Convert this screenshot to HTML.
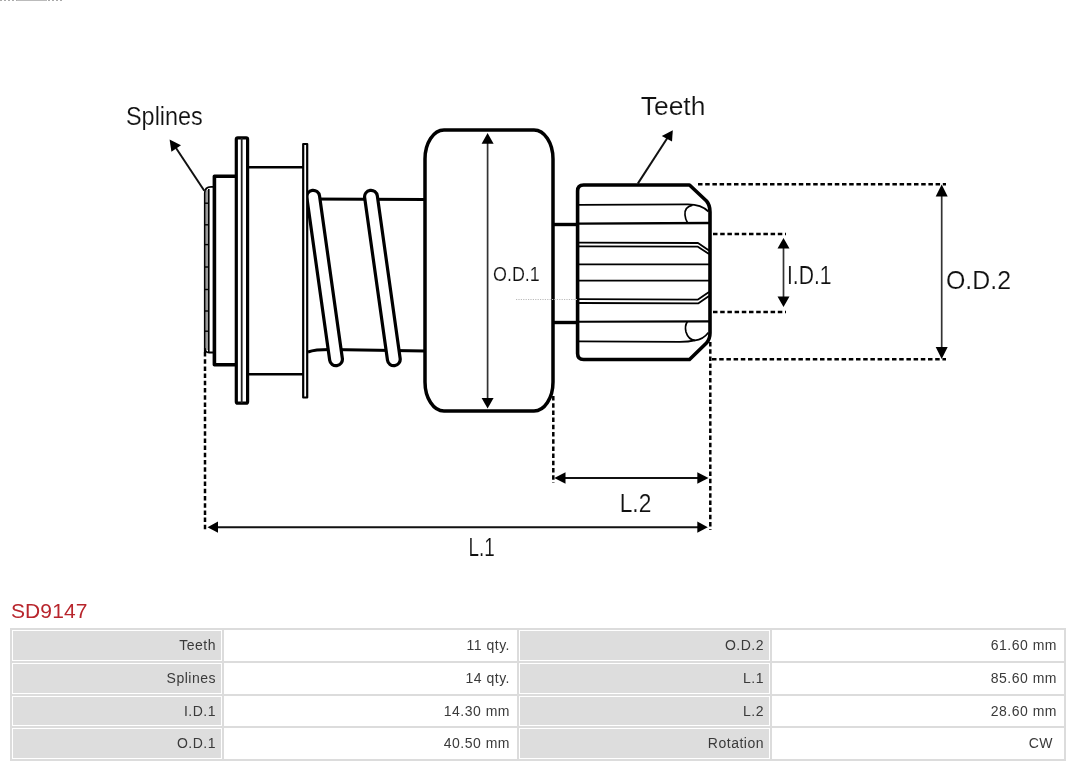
<!DOCTYPE html>
<html>
<head>
<meta charset="utf-8">
<style>
html,body{margin:0;padding:0;background:#fff;width:1080px;height:767px;overflow:hidden;position:relative;font-family:"Liberation Sans",sans-serif;}
#dia{position:absolute;left:0;top:0;will-change:transform;}
#title{will-change:transform;position:absolute;left:11px;top:599px;font-size:21px;letter-spacing:0.1px;line-height:24px;color:#b8252c;white-space:nowrap;}
#tbl{will-change:transform;position:absolute;left:10px;top:628px;width:1056px;height:133px;background:#dcdcdc;}
.c{position:absolute;box-sizing:border-box;border:1px solid #fff;font-size:14px;letter-spacing:0.5px;color:#3a3a3a;text-align:right;white-space:nowrap;line-height:29px;}
.h{background:#dddddd;padding-right:5px;}
.d{background:#fff;padding-right:6px;}
</style>
</head>
<body>
<svg id="dia" width="1080" height="590" viewBox="0 0 1080 590">
<g fill="none" stroke="#000" stroke-linejoin="round">
<line x1="0" y1="0.5" x2="64" y2="0.5" stroke="#aaa" stroke-width="1" stroke-dasharray="2 2"/>
<line x1="17" y1="0.5" x2="47" y2="0.5" stroke="#bbb" stroke-width="1"/>
<!-- dashed extension lines -->
<g stroke-width="2.5" stroke-dasharray="4.5 2.7">
<line x1="698" y1="184.3" x2="946" y2="184.3"/>
<line x1="712" y1="359.3" x2="946" y2="359.3"/>
<line x1="713" y1="234" x2="786" y2="234"/>
<line x1="713" y1="312" x2="786" y2="312"/>
<line x1="205" y1="352" x2="205" y2="531"/>
<line x1="553.3" y1="396" x2="553.3" y2="483"/>
<line x1="710.3" y1="342" x2="710.3" y2="530"/>
</g>
<!-- splines strip -->
<path d="M204.8,352 L204.8,193 Q204.8,186.8 211,186.8 L214,186.8" stroke-width="1.8"/>
<rect x="205.8" y="190" width="2.2" height="160" fill="#9a9a9a" stroke="none"/>
<line x1="208.8" y1="189" x2="208.8" y2="352" stroke-width="1.6"/>
<path d="M204.8,348 Q205,352.5 209,352.5 L214,352.5" stroke-width="1.8"/><line x1="204" y1="203.2" x2="209" y2="203.2" stroke-width="1.4"/><line x1="204" y1="224.8" x2="209" y2="224.8" stroke-width="1.4"/><line x1="204" y1="244.6" x2="209" y2="244.6" stroke-width="1.4"/><line x1="204" y1="267" x2="209" y2="267" stroke-width="1.4"/><line x1="204" y1="289.5" x2="209" y2="289.5" stroke-width="1.4"/><line x1="204" y1="311" x2="209" y2="311" stroke-width="1.4"/><line x1="204" y1="331.2" x2="209" y2="331.2" stroke-width="1.4"/>
<!-- hub -->
<path d="M237,176.3 L214.4,176.3 L214.4,364.7 L237,364.7" stroke-width="3.6"/>
<!-- flange 1 -->
<rect x="236.3" y="137.8" width="11.3" height="265.4" rx="1.5" stroke-width="3.2" fill="#fff"/>
<line x1="241.7" y1="138" x2="241.7" y2="403" stroke-width="1.8" stroke="#222"/>
<!-- body lines -->
<line x1="248" y1="167.2" x2="303.5" y2="167.2" stroke-width="2.6"/>
<line x1="248" y1="374.2" x2="303.5" y2="374.2" stroke-width="2.6"/>
<!-- shaft -->
<line x1="308" y1="199" x2="425" y2="199.6" stroke-width="3"/>
<path d="M308,352 Q315,349.6 330,349.6 L425,351" stroke-width="3"/>
<!-- coils -->
<rect x="-6.4" y="-88.5" width="12.8" height="177" rx="6.4" transform="translate(324.6,278) rotate(-8)" stroke-width="3.2" fill="#fff"/>
<rect x="-6.4" y="-88.5" width="12.8" height="177" rx="6.4" transform="translate(382.4,278) rotate(-8)" stroke-width="3.2" fill="#fff"/>
<!-- flange 2 -->
<rect x="303.2" y="144" width="4" height="253.5" stroke-width="2.2" fill="#fff"/>
<!-- disc -->
<rect x="425" y="130" width="128" height="281" rx="19" ry="29" stroke-width="3.5" fill="#fff"/>
<!-- connectors -->
<line x1="553" y1="224.5" x2="578" y2="224.5" stroke-width="3.4"/>
<line x1="553" y1="322.5" x2="578" y2="322.5" stroke-width="3.4"/>
<!-- pinion -->
<path d="M577.6,191 Q577.6,185 583.6,185 L689.5,185 L706.5,201 Q710,205 710,212 L710,333 Q710,339 706.5,343 L689.5,359.5 L583.6,359.5 Q577.6,359.5 577.6,353.5 Z" stroke-width="3.6" fill="#fff"/>
<g stroke-width="1.8">
<path d="M579,204.8 L688,204.3 C697,204.3 704,207 708.5,211.5"/>
<path d="M692.5,205.2 C687,206.5 684.5,210.5 685,215 C685.3,218.5 686.3,221 687.5,222.8" stroke-width="1.7"/>
<line x1="579" y1="223.6" x2="709" y2="223" stroke-width="2.4"/>
<path d="M579,242.6 L698,243 L709,250.5"/>
<path d="M579,246.3 L697.5,246.6 L709,254"/>
<line x1="579" y1="264.3" x2="709" y2="264.3"/>
<line x1="579" y1="280.6" x2="709" y2="280.6"/>
<path d="M579,299.2 L698,299.6 L709,292"/>
<path d="M579,303 L698.5,303.3 L709,296"/>
<line x1="579" y1="321.8" x2="709" y2="321.4" stroke-width="2.1"/>
<path d="M687.3,321.8 C685.5,324.5 685,328 686,332 C687.5,337 691,340 695,340.3 C700,340 705,337 708.5,332.5" stroke-width="1.7"/>
<path d="M579,341.4 L680,341.8 C688,341.8 692,341 695,340.3"/>
</g>
<line x1="516" y1="299.5" x2="577" y2="299.5" stroke="#bbb" stroke-width="1" stroke-dasharray="1.2 1.2"/>
<!-- arrows (lines) -->
<g stroke="#333" stroke-width="1.7">
<line x1="487.6" y1="140" x2="487.6" y2="401"/>
<line x1="941.7" y1="192" x2="941.7" y2="351"/>
<line x1="783.5" y1="245" x2="783.5" y2="300"/>
</g>
<g stroke="#111" stroke-width="2">
<line x1="214" y1="527.2" x2="700" y2="527.2"/>
<line x1="563" y1="478" x2="700" y2="478"/>
<line x1="204.3" y1="190.7" x2="176" y2="148"/>
<line x1="637.8" y1="183.6" x2="668" y2="137"/>
</g>
</g>
<g fill="#000" stroke="none">
<path d="M487.6,133 L481.6,143.8 L493.6,143.8 Z"/>
<path d="M487.6,408.6 L481.6,398 L493.6,398 Z"/>
<path d="M941.7,184.5 L935.7,196.5 L947.7,196.5 Z"/>
<path d="M941.7,359 L935.7,347 L947.7,347 Z"/>
<path d="M783.5,238 L777.5,248.5 L789.5,248.5 Z"/>
<path d="M783.5,307 L777.5,296.5 L789.5,296.5 Z"/>
<path d="M207.5,527.2 L218,521.6 L218,532.8 Z"/>
<path d="M707.8,527.2 L697.3,521.6 L697.3,532.8 Z"/>
<path d="M554.3,478 L565.5,472.2 L565.5,483.8 Z"/>
<path d="M708.5,478 L697.3,472.2 L697.3,483.8 Z"/>
<path d="M169.6,139.6 L171.4,151.8 L181,145.3 Z"/>
<path d="M672.8,130.2 L661.8,136 L672,141.5 Z"/>
</g>
<g font-family="Liberation Sans, sans-serif" fill="#111" stroke="#fff" stroke-width="0.15">
<text x="126" y="124.8" font-size="26" textLength="76.8" lengthAdjust="spacingAndGlyphs">Splines</text>
<text x="640.8" y="114.5" font-size="25" textLength="64.6" lengthAdjust="spacingAndGlyphs">Teeth</text>
<text x="946" y="288.7" font-size="26" textLength="65" lengthAdjust="spacingAndGlyphs">O.D.2</text>
<text x="787" y="283.8" font-size="25" textLength="44.6" lengthAdjust="spacingAndGlyphs">I.D.1</text>
<text x="619.7" y="511.7" font-size="25.2" textLength="31.6" lengthAdjust="spacingAndGlyphs">L.2</text>
<text x="468.5" y="555.8" font-size="25.5" textLength="26.2" lengthAdjust="spacingAndGlyphs">L.1</text>
<text x="493" y="280.6" font-size="20" textLength="46.8" lengthAdjust="spacingAndGlyphs">O.D.1</text>
</g>
</svg>
<div id="title">SD9147</div>
<div id="tbl">
<div class="c h" style="left:2px;top:2px;width:210px;height:31px;line-height:29px">Teeth</div>
<div class="c d" style="left:214px;top:2px;width:293px;height:31px;line-height:29px">11 qty.</div>
<div class="c h" style="left:509px;top:2px;width:251px;height:31px;line-height:29px">O.D.2</div>
<div class="c d" style="left:762px;top:2px;width:292px;height:31px;line-height:29px">61.60 mm</div>
<div class="c h" style="left:2px;top:35px;width:210px;height:31px;line-height:29px">Splines</div>
<div class="c d" style="left:214px;top:35px;width:293px;height:31px;line-height:29px">14 qty.</div>
<div class="c h" style="left:509px;top:35px;width:251px;height:31px;line-height:29px">L.1</div>
<div class="c d" style="left:762px;top:35px;width:292px;height:31px;line-height:29px">85.60 mm</div>
<div class="c h" style="left:2px;top:68px;width:210px;height:30px;line-height:28px">I.D.1</div>
<div class="c d" style="left:214px;top:68px;width:293px;height:30px;line-height:28px">14.30 mm</div>
<div class="c h" style="left:509px;top:68px;width:251px;height:30px;line-height:28px">L.2</div>
<div class="c d" style="left:762px;top:68px;width:292px;height:30px;line-height:28px">28.60 mm</div>
<div class="c h" style="left:2px;top:100px;width:210px;height:31px;line-height:29px">O.D.1</div>
<div class="c d" style="left:214px;top:100px;width:293px;height:31px;line-height:29px">40.50 mm</div>
<div class="c h" style="left:509px;top:100px;width:251px;height:31px;line-height:29px">Rotation</div>
<div class="c d" style="left:762px;top:100px;width:292px;height:31px;line-height:29px;padding-right:10px">CW</div>
</div>
</body>
</html>
